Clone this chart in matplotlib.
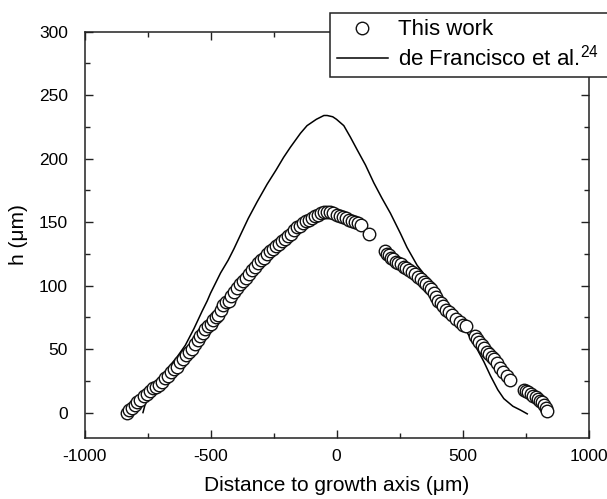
import matplotlib
matplotlib.use("Agg")
import matplotlib.pyplot as plt
from matplotlib.patches import Rectangle
from matplotlib.ticker import MultipleLocator

plt.rcParams['font.family'] = ['Liberation Sans', 'DejaVu Sans']
plt.rcParams['mathtext.fontset'] = 'custom'
plt.rcParams['mathtext.rm'] = 'Liberation Sans'
plt.rcParams['mathtext.it'] = 'Liberation Sans:italic'
plt.rcParams['axes.unicode_minus'] = False

# ---- data: "This work" (measured points) ----
left_x = [-830, -822, -811, -800, -790, -778, -765, -752, -740, -728, -716, -704,
          -692, -680, -668, -656, -644, -632, -620, -608, -596, -584, -572, -560,
          -550, -540, -530, -520, -510, -500, -490, -480, -470, -460, -450, -440,
          -428, -418, -407, -395, -383, -372, -360, -348, -336, -324, -312, -300,
          -288, -276, -264, -252, -240, -228, -216, -204, -192, -180, -168, -156,
          -144, -132, -120, -108, -96, -84, -72, -60, -48, -36, -24, -12, 0, 12,
          24, 36, 48, 60, 72, 84, 96, 128]
left_h = [0, 2, 4, 6, 8, 10, 13, 15, 17, 19, 20, 22,
          24, 27, 29, 32, 34, 36, 40, 42, 45, 48, 50, 54,
          57, 60, 63, 66, 68, 70, 73, 75, 77, 81, 85, 87,
          88, 92, 95, 98, 101, 104, 106, 109, 112, 115, 118, 120,
          122, 125, 127, 129, 131, 133, 135, 137, 139, 141, 144, 146,
          147, 149, 151, 152, 153, 155, 156, 157, 158, 158, 158, 157, 156, 155,
          154, 153, 152, 151, 150, 149, 148, 141]
right_x = [194, 200, 208, 216, 226, 236, 246, 256, 266, 276, 288, 300, 312, 324,
           336, 346, 356, 366, 376, 386, 394, 404, 414, 424, 436, 448, 460, 474,
           490, 502, 512, 550, 558, 566, 576, 586, 596, 606, 616, 626, 638, 650,
           662, 676, 688, 744, 752, 760, 770, 780, 790, 800, 808, 816, 824, 830, 836]
right_h = [127, 125, 124, 122, 121, 119, 118, 117, 115, 114, 112, 111, 109, 107,
           105, 103, 101, 99, 97, 94, 91, 88, 86, 84, 81, 79, 77, 74,
           71, 69, 68, 60, 58, 56, 53, 51, 48, 46, 44, 42, 39, 35,
           32, 29, 26, 18, 17, 16, 15, 13, 12, 11, 9, 8, 6, 4, 1]

# ---- data: de Francisco et al. (curve) ----
ref_x = [-768, -760, -751, -740, -720, -698, -665, -632, -600, -566, -533, -513,
         -500, -460, -430, -407, -381, -350, -315, -275, -240, -210, -183, -143,
         -117, -80, -50, -37, -15, 0, 29, 55, 82, 115, 148, 180, 214, 254, 280,
         320, 360, 400, 450, 505, 530, 558, 585, 611, 640, 664, 700, 730, 757]
ref_h = [0, 6, 12, 15, 21, 28, 36, 44, 53, 66, 80, 88,
         94, 110, 120, 129, 140, 153, 166, 180, 191, 201, 209, 220,
         226, 231, 234, 234, 233, 231, 226, 217, 207, 195, 181, 169, 157, 141, 130,
         116, 106, 95, 81, 68, 59, 50, 40, 29, 18, 11, 5, 2, -1]

label_points = 'This work'
label_curve = 'de Francisco et al.$^{24}$'

fig = plt.figure(figsize=(6.07, 4.99), dpi=100)
ax = fig.add_axes([84.5 / 607, 1 - 438 / 499, 504 / 607, (438 - 31.7) / 499])

ln, = ax.plot(ref_x, ref_h, color='black', lw=1.1, zorder=2)
pts, = ax.plot(left_x + right_x, left_h + right_h, linestyle='none', marker='o',
               markersize=9, markerfacecolor='white', markeredgecolor='#111111',
               markeredgewidth=1.0, zorder=3)

ax.set_xlim(-1000, 1000)
ax.set_ylim(-20, 300)
ax.xaxis.set_major_locator(MultipleLocator(500))
ax.xaxis.set_minor_locator(MultipleLocator(250))
ax.yaxis.set_major_locator(MultipleLocator(50))
ax.yaxis.set_minor_locator(MultipleLocator(25))
ax.tick_params(which='both', direction='in', top=True, right=True, width=1.0,
               labelsize=12.5, color='#222222')
ax.tick_params(which='major', length=5.5)
ax.tick_params(which='minor', length=3.5)
ax.tick_params(axis='x', which='major', pad=8)
ax.tick_params(axis='y', which='major', pad=12)
for s in ax.spines.values():
    s.set_linewidth(1.1)
    s.set_color('#222222')

ax.set_xlabel('Distance to growth axis (μm)', fontsize=15)
ax.set_ylabel('h (μm)', fontsize=15)
ax.xaxis.set_label_coords(0.5, -0.093)
ax.yaxis.set_label_coords(-0.112, 0.5)

frame = Rectangle((330 / 607, 1 - 76.7 / 499), 0.6, 64 / 499,
                  transform=fig.transFigure, facecolor='white',
                  edgecolor='#222222', linewidth=1.1, zorder=3)
fig.add_artist(frame)

leg = fig.legend([pts, ln], [label_points, label_curve], loc='upper left',
                 bbox_to_anchor=(330 / 607, 1 - 12.7 / 499),
                 bbox_transform=fig.transFigure, frameon=False,
                 borderaxespad=0, borderpad=0.3, handlelength=2.3,
                 handletextpad=0.45, labelspacing=0.2, fontsize=16,
                 numpoints=1)
leg.set_zorder(5)

fig.savefig('out.png', dpi=100)
